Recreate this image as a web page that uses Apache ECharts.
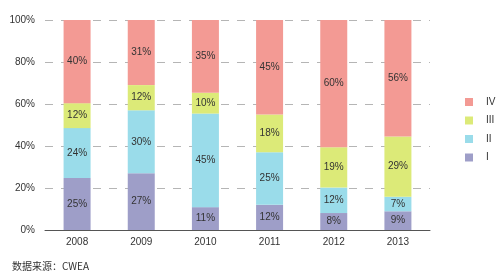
<!DOCTYPE html>
<html><head><meta charset="utf-8">
<script src="https://cdn.jsdelivr.net/npm/echarts@6/dist/echarts.min.js"></script>
<style>html,body{margin:0;padding:0;background:#fff}#c{width:500px;height:277px}</style>
</head><body><div id="c"></div>
<script>
var years = ['2008','2009','2010','2011','2012','2013'];
var classI   = [25, 27, 11, 12, 8, 9];
var classII  = [24, 30, 45, 25, 12, 7];
var classIII = [12, 12, 10, 18, 19, 29];
var classIV  = [40, 31, 35, 45, 60, 56];
var yTicks = ['0%','20%','40%','60%','80%','100%'];

var all = [classI, classII, classIII, classIV];
var totals = years.map(function(_, i){ return all.reduce(function(s,a){return s+a[i];},0); });
function norm(arr){ return arr.map(function(v,i){ return {value: v/totals[i]*100, raw: v}; }); }

var names = ['I','II','III','IV'];
var colors = ['#9e9ec8','#9adcea','#dcea78','#f39a94'];
var series = all.map(function(arr, k){
  return {
    name: names[k], type: 'bar', stack: 'a', barWidth: 27,
    data: norm(arr),
    itemStyle: {color: colors[k]},
    label: {show: true, position: 'inside', color: '#333', fontSize: 10,
      fontFamily: 'Liberation Sans, Arial, sans-serif',
      formatter: function(p){ return p.data.raw + '%'; }}
  };
});

var chart = echarts.init(document.getElementById('c'), null, {renderer: 'canvas'});
chart.setOption({
  animation: false,
  backgroundColor: '#fff',
  grid: {left: 45, right: 70, top: 20, bottom: 47},
  legend: {
    data: ['IV','III','II','I'],
    orient: 'vertical', left: 460, top: 92,
    itemWidth: 8, itemHeight: 8, itemGap: 8.5,
    icon: 'rect',
    textStyle: {color: '#333', fontSize: 10, padding: [0,0,0,8], fontFamily: 'Liberation Sans, Arial, sans-serif'}
  },
  xAxis: {
    type: 'category', data: years,
    axisLine: {lineStyle: {color: '#555', width: 1}},
    axisTick: {show: false},
    axisLabel: {color: '#333', fontSize: 10, margin: 7, fontFamily: 'Liberation Sans, Arial, sans-serif'}
  },
  yAxis: {
    type: 'value', min: 0, max: 100, interval: 20,
    axisLine: {show: false}, axisTick: {show: false},
    axisLabel: {color: '#333', fontSize: 10, margin: 10, fontFamily: 'Liberation Sans, Arial, sans-serif',
      formatter: function(v){ return yTicks[Math.round(v/20)]; }},
    splitLine: {lineStyle: {color: '#b5b5b5', type: [8, 8], width: 1}}
  },
  graphic: [{
    type: 'text', left: 12, top: 261,
    style: {text: '数据来源：CWEA', fill: '#333', fontSize: 10, fontFamily: 'Noto Sans CJK SC, sans-serif'}
  }],
  series: series
});
</script></body></html>
